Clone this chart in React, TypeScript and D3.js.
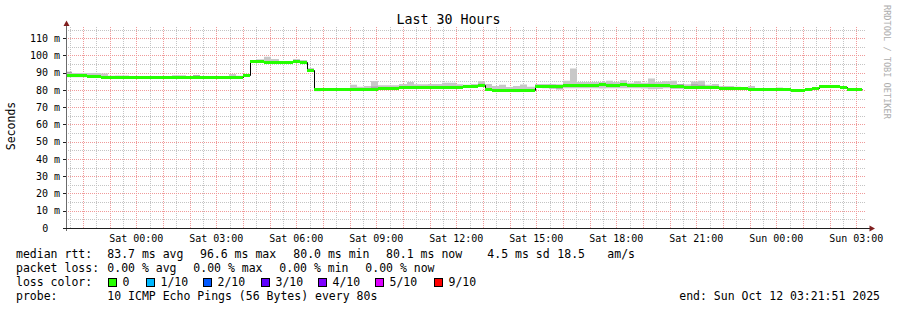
import React from "react";
import * as d3 from "d3";

// ---- time frame ----
const START = new Date(2025, 9, 10, 21, 21, 51);
const END = new Date(2025, 9, 12, 3, 21, 51);
const FIRST_STEP = new Date(2025, 9, 10, 21, 20, 0);
const STEP_MINUTES = 16;

// ---- data (ms), one value per 16-minute step ----
const medianMs = [
  88.1, 88.1, 88.1, 87.8, 87.8, 87.5, 87.2, 87.0, 87.0, 87.0,
  87.0, 87.0, 87.0, 87.0, 87.0, 87.0, 87.0, 87.0, 87.0, 87.0,
  87.0, 87.0, 87.0, 87.0, 87.0, 88.5, 96.4, 96.4, 96.2, 96.2,
  96.2, 96.2, 96.4, 96.2, 91.4, 80.1, 80.1, 80.1, 80.1, 80.1,
  80.1, 80.3, 80.5, 80.5, 81.0, 81.0, 81.0, 81.3, 81.3, 81.3,
  81.3, 81.3, 81.3, 81.3, 81.3, 81.5, 81.9, 81.9, 82.6, 80.4,
  79.8, 79.8, 79.8, 79.8, 79.8, 79.8, 81.9, 81.9, 82.1, 82.1,
  82.4, 82.4, 82.8, 82.8, 82.8, 83.0, 82.8, 82.8, 83.0, 82.8,
  82.8, 82.6, 82.6, 82.6, 82.6, 82.0, 82.0, 81.2, 81.2, 81.2,
  81.2, 81.2, 81.1, 81.1, 81.0, 80.8, 80.5, 80.5, 80.5, 80.4,
  80.4, 80.0, 79.9, 79.9, 80.3, 80.9, 81.9, 81.9, 81.9, 81.2,
  80.4, 80.4,
];

const smokeHighMs = [
  90.5, 89.8, 89.8, 89.8, 89.8, 89.6, 88.2, 88.4, 88.4, 87.6,
  87.6, 87.6, 87.6, 87.6, 87.6, 88.5, 88.5, 88.0, 88.6, 88.0,
  88.0, 87.5, 87.5, 89.2, 88.2, 89.0, 97.0, 97.8, 99.3, 98.0,
  96.8, 96.8, 98.0, 97.4, 92.7, 80.6, 81.0, 81.0, 81.0, 81.0,
  83.1, 81.8, 82.3, 85.2, 82.7, 82.7, 82.7, 83.5, 84.6, 83.3,
  83.3, 83.5, 83.5, 84.2, 84.2, 83.3, 83.0, 83.5, 85.0, 83.5,
  82.3, 83.0, 81.7, 82.3, 83.2, 81.9, 83.5, 83.5, 83.3, 83.3,
  85.4, 92.4, 84.6, 84.6, 84.6, 84.6, 85.4, 84.6, 85.6, 84.2,
  85.0, 84.2, 86.6, 84.6, 85.0, 85.3, 83.5, 83.3, 84.9, 85.3,
  83.1, 83.5, 82.3, 82.3, 81.9, 81.5, 82.3, 81.2, 80.8, 80.8,
  81.5, 81.2, 80.4, 80.4, 80.8, 81.5, 82.3, 82.3, 82.3, 81.5,
  81.2, 81.2,
];

const smokeLowMs = [
  87.4, 87.4, 87.4, 87.2, 87.2, 87.0, 86.7, 86.5, 86.5, 86.5,
  86.5, 86.5, 86.5, 86.5, 86.5, 86.5, 86.5, 86.5, 86.5, 86.5,
  86.5, 86.5, 86.5, 86.5, 86.5, 88.0, 95.7, 95.7, 95.6, 95.6,
  95.6, 95.6, 95.7, 95.6, 90.9, 79.2, 79.6, 79.6, 79.6, 79.6,
  79.6, 79.8, 80.0, 80.0, 80.4, 80.4, 80.4, 80.7, 80.7, 80.7,
  80.7, 80.7, 80.7, 80.7, 80.7, 80.7, 81.3, 81.3, 81.8, 79.8,
  79.3, 79.2, 79.2, 78.8, 79.0, 79.2, 81.3, 81.0, 80.6, 80.4,
  81.0, 81.0, 81.0, 81.0, 81.0, 80.8, 81.0, 81.0, 81.0, 81.0,
  81.0, 80.8, 80.4, 80.6, 81.0, 80.6, 80.6, 80.6, 80.6, 80.6,
  80.6, 80.6, 80.4, 80.4, 80.4, 80.4, 79.9, 79.9, 79.9, 79.9,
  79.9, 79.4, 79.4, 79.4, 79.8, 80.3, 81.3, 81.3, 81.3, 80.7,
  79.9, 79.9,
];

// darker inner smoke: [step, low, high]
const innerSmoke: [number, number, number][] = [
  [0, 89.7, 90.5], [18, 87.9, 88.6], [43, 81.2, 82.0], [57, 82.2, 82.8],
  [58, 82.9, 83.6], [63, 78.8, 79.4], [64, 79.0, 79.4], [68, 82.6, 83.1],
  [69, 80.4, 81.0], [76, 83.0, 83.6], [82, 82.9, 83.6], [86, 82.6, 83.4],
  [88, 82.5, 83.3], [89, 82.4, 83.0],
];

const yMajorTicks = [0, 10, 20, 30, 40, 50, 60, 70, 80, 90, 100, 110];
const yMinorTicks = [5, 15, 25, 35, 45, 55, 65, 75, 85, 95, 105, 115];

const statsLine1: [string, number][] = [
  ["median rtt:", 16], ["83.7 ms avg", 107.3], ["96.6 ms max", 200],
  ["80.0 ms min", 293.3], ["80.1 ms now", 386], ["4.5 ms sd", 487.3],
  ["18.5", 557.3], ["am/s", 607.3],
];
const statsLine2: [string, number][] = [
  ["packet loss:", 16], ["0.00 % avg", 107.3], ["0.00 % max", 193.3],
  ["0.00 % min", 279.3], ["0.00 % now", 365.3],
];
const lossLabels = ["0", "1/10", "2/10", "3/10", "4/10", "5/10", "9/10"];
const lossColors = ["#26ff00", "#00b8ff", "#0059ff", "#5e00ff", "#7e00ff", "#dd00ff", "#ff0000"];
const lossBoxX = [108, 146, 203, 261, 318, 375, 434];

const TITLE = "Last 30 Hours";
const Y_TITLE = "Seconds";
const PROBE = "10 ICMP Echo Pings (56 Bytes) every 80s";
const END_TEXT = "end: Sun Oct 12 03:21:51 2025";
const WATERMARK = "RRDTOOL / TOBI OETIKER";

const W = 897;
const H = 310;
const X0 = 66;
const X1 = 866;
const Y0 = 228;
const YTOP = 27;
const MONO = "'DejaVu Sans Mono', monospace";

export default function App() {
  const x = d3.scaleTime().domain([START, END]).range([X0, X1]);
  const y = d3.scaleLinear().domain([0, 116.5]).range([Y0, YTOP]);
  const n = medianMs.length;
  const stepTime = (k: number) => d3.timeMinute.offset(FIRST_STEP, STEP_MINUTES * k);
  const sx = (k: number) => Math.round(x(stepTime(k)));
  const sy = (v: number) => Math.round(y(v) - 0.5) + 0.5;
  const idx = d3.range(n + 1);
  const val = (arr: number[], k: number) => arr[Math.min(k, n - 1)];

  const smokeArea = d3
    .area<number>()
    .x((k) => sx(k))
    .y0((k) => y(val(smokeLowMs, k)))
    .y1((k) => y(val(smokeHighMs, k)))
    .curve(d3.curveStepAfter);

  const medianLine = d3
    .line<number>()
    .x((k) => sx(k) + 0.5)
    .y((k) => sy(val(medianMs, k)))
    .curve(d3.curveStepAfter);

  const minorTimes = d3.timeMinute.every(30)!.range(START, END).filter((t) => t.getMinutes() === 30);
  const majorTimes = d3.timeHour.every(1)!.range(START, END);
  const labelTimes = d3.timeHour.every(3)!.range(START, END);
  const fmt = d3.timeFormat("%a %H:%M");

  const minorGrid = "#c4c4c4";
  const majorGrid = "#f09a9a";

  return (
    <svg
      width={W}
      height={H}
      style={{ position: "absolute", left: 0, top: 0, display: "block" }}
      fontFamily={MONO}
    >
      <rect x={0} y={0} width={W} height={H} fill="#ffffff" />
      <defs>
        <clipPath id="plot">
          <rect x={X0 + 1} y={YTOP} width={X1 - X0 - 1} height={Y0 - YTOP} />
        </clipPath>
      </defs>

      {/* grid */}
      <g strokeDasharray="1,1" strokeWidth={1}>
        {yMinorTicks.map((v) => (
          <line key={"hm" + v} x1={X0} x2={X1} y1={Math.round(y(v)) + 0.5} y2={Math.round(y(v)) + 0.5} stroke={minorGrid} />
        ))}
        {minorTimes.map((t) => (
          <line key={"vm" + +t} x1={Math.round(x(t)) + 0.5} x2={Math.round(x(t)) + 0.5} y1={YTOP} y2={Y0} stroke={minorGrid} />
        ))}
        {yMajorTicks.filter((v) => v > 0).map((v) => (
          <line key={"hM" + v} x1={X0} x2={X1} y1={Math.round(y(v)) + 0.5} y2={Math.round(y(v)) + 0.5} stroke={majorGrid} />
        ))}
        {majorTimes.map((t) => (
          <line key={"vM" + +t} x1={Math.round(x(t)) + 0.5} x2={Math.round(x(t)) + 0.5} y1={YTOP} y2={Y0} stroke={majorGrid} />
        ))}
      </g>

      {/* smoke */}
      <g clipPath="url(#plot)">
        <path d={smokeArea(idx) || ""} fill="#c8c8c8" />
        {innerSmoke.map(([k, lo, hi]) => (
          <rect
            key={"is" + k}
            x={sx(k)}
            width={sx(k + 1) - sx(k)}
            y={y(hi)}
            height={y(lo) - y(hi)}
            fill="#a6a6a6"
          />
        ))}
        <path d={medianLine(idx) || ""} fill="none" stroke="#000000" strokeWidth={1} />
        {medianMs.map((v, k) => (
          <line
            key={"md" + k}
            x1={sx(k)}
            x2={sx(k + 1)}
            y1={sy(v)}
            y2={sy(v)}
            stroke={lossColors[0]}
            strokeWidth={3}
          />
        ))}
      </g>

      {/* axes */}
      <line x1={X0 + 0.5} x2={X0 + 0.5} y1={Y0 + 3} y2={23} stroke="#6b6b6b" strokeWidth={1} />
      <line x1={X0 - 3} x2={871} y1={Y0 + 0.5} y2={Y0 + 0.5} stroke="#1f1f1f" strokeWidth={1} />
      <path d={`M${X0 + 0.5},20.5 L${X0 + 3.5},26 L${X0 - 2.5},26 Z`} fill="#801f1f" />
      <path d={`M875,${Y0 + 0.5} L869.5,${Y0 - 2.5} L869.5,${Y0 + 3.5} Z`} fill="#801f1f" />
      {yMajorTicks.map((v) => (
        <line key={"yt" + v} x1={X0 - 3} x2={X0} y1={Math.round(y(v)) + 0.5} y2={Math.round(y(v)) + 0.5} stroke="#1f1f1f" />
      ))}

      {/* y labels */}
      <g fontSize={10} fill="#000">
        {yMajorTicks.map((v) => (
          <text key={"yl" + v} x={v === 0 ? 48.2 : 60} y={y(v) + 3.6} textAnchor="end">
            {v === 0 ? "0" : `${v} m`}
          </text>
        ))}
        {labelTimes.map((t) => (
          <text key={"xl" + +t} x={x(t)} y={241.5} textAnchor="middle">
            {fmt(t)}
          </text>
        ))}
      </g>

      {/* titles */}
      <text x={448.5} y={24} textAnchor="middle" fontSize={13.3} fill="#000">{TITLE}</text>
      <text transform="translate(15,126) rotate(-90)" textAnchor="middle" fontSize={11.5} fill="#000">{Y_TITLE}</text>
      <text transform="translate(884,5) rotate(90)" fontSize={8.6} fill="#adadad">{WATERMARK}</text>

      {/* legend */}
      <g fontSize={11.5} fill="#000">
        {statsLine1.map(([s, px]) => (
          <text key={"s1" + s} x={px} y={258.3}>{s}</text>
        ))}
        {statsLine2.map(([s, px], i) => (
          <text key={"s2" + i} x={px} y={272.2}>{s}</text>
        ))}
        <text x={16} y={286.2}>loss color:</text>
        {lossLabels.map((s, i) => (
          <g key={"ll" + s}>
            <rect x={lossBoxX[i] + 0.5} y={278.5} width={8} height={8} fill={lossColors[i]} stroke="#000" strokeWidth={1} />
            <text x={lossBoxX[i] + 14.5} y={286.2}>{s}</text>
          </g>
        ))}
        <text x={16} y={300.2}>probe:</text>
        <text x={107.3} y={300.2}>{PROBE}</text>
        <text x={880} y={300.2} textAnchor="end">{END_TEXT}</text>
      </g>
    </svg>
  );
}
